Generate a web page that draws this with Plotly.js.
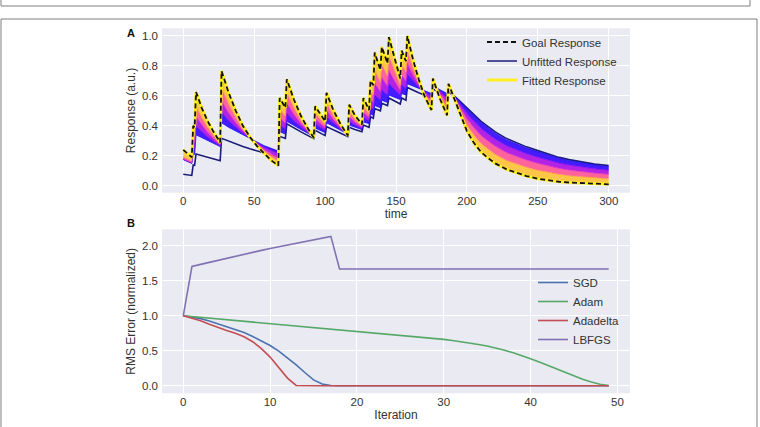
<!DOCTYPE html>
<html><head><meta charset="utf-8">
<script src="https://cdn.plot.ly/plotly-3.0.1.min.js"></script>
<style>html,body{margin:0;padding:0;background:#fff}#chart{width:760px;height:427px}</style>
</head><body><div id="chart"></div>
<script>
// ---------- Panel A data ----------
const time = [0, 6, 7, 8, 9, 13, 17, 21, 26, 27, 32, 37, 42, 47, 52, 57, 62, 67, 68, 72, 73, 78, 83, 88, 92, 93, 100, 101, 106, 111, 116, 117, 121, 126, 127, 131, 132, 134, 135, 139, 140, 144, 145, 149, 153, 154, 157, 158, 162, 166, 170, 175, 176, 181, 186, 187, 191, 195, 200, 205, 210, 215, 220, 228, 235, 242, 250, 258, 265, 272, 280, 290, 300];
const goalResponse = [0.24, 0.19, 0.40, 0.39, 0.625, 0.52, 0.435, 0.365, 0.29, 0.765, 0.62, 0.50, 0.40, 0.325, 0.265, 0.215, 0.17, 0.135, 0.585, 0.52, 0.71, 0.575, 0.465, 0.38, 0.32, 0.53, 0.43, 0.62, 0.50, 0.41, 0.335, 0.54, 0.47, 0.41, 0.585, 0.505, 0.70, 0.67, 0.887, 0.77, 0.925, 0.815, 0.99, 0.85, 0.715, 0.90, 0.83, 0.998, 0.84, 0.71, 0.60, 0.505, 0.715, 0.58, 0.47, 0.68, 0.58, 0.49, 0.365, 0.285, 0.225, 0.185, 0.15, 0.11, 0.087, 0.066, 0.048, 0.035, 0.028, 0.023, 0.019, 0.014, 0.011];
const unfittedResponse = [0.078, 0.07, 0.14, 0.138, 0.213, 0.202, 0.192, 0.182, 0.168, 0.317, 0.298, 0.28, 0.262, 0.247, 0.232, 0.218, 0.205, 0.192, 0.33, 0.316, 0.413, 0.385, 0.36, 0.335, 0.315, 0.37, 0.335, 0.395, 0.37, 0.35, 0.328, 0.39, 0.375, 0.36, 0.405, 0.39, 0.46, 0.45, 0.515, 0.50, 0.55, 0.535, 0.585, 0.565, 0.545, 0.585, 0.57, 0.655, 0.635, 0.62, 0.605, 0.585, 0.645, 0.62, 0.597, 0.625, 0.60, 0.565, 0.52, 0.475, 0.43, 0.395, 0.36, 0.315, 0.285, 0.26, 0.235, 0.21, 0.19, 0.175, 0.16, 0.145, 0.135];
// intermediate fitting iterations (edges of the colour bands, read from the fan)
const iterBlue = [0.175, 0.15, 0.21, 0.21, 0.34, 0.32, 0.30, 0.285, 0.262, 0.42, 0.39, 0.365, 0.34, 0.318, 0.29, 0.268, 0.25, 0.232, 0.36, 0.345, 0.43, 0.40, 0.375, 0.35, 0.33, 0.385, 0.355, 0.42, 0.395, 0.37, 0.345, 0.405, 0.39, 0.375, 0.425, 0.415, 0.48, 0.47, 0.535, 0.52, 0.57, 0.555, 0.605, 0.59, 0.575, 0.615, 0.605, 0.68, 0.665, 0.65, 0.635, 0.615, 0.665, 0.64, 0.615, 0.635, 0.595, 0.56, 0.513, 0.467, 0.422, 0.386, 0.351, 0.306, 0.277, 0.252, 0.227, 0.203, 0.183, 0.168, 0.153, 0.139, 0.128];
const iterPurple = [0.177, 0.152, 0.25, 0.245, 0.40, 0.36, 0.327, 0.30, 0.268, 0.49, 0.435, 0.392, 0.352, 0.319, 0.285, 0.258, 0.234, 0.213, 0.405, 0.38, 0.485, 0.435, 0.393, 0.356, 0.328, 0.414, 0.37, 0.46, 0.416, 0.378, 0.343, 0.432, 0.406, 0.382, 0.457, 0.433, 0.524, 0.51, 0.605, 0.57, 0.64, 0.607, 0.682, 0.642, 0.603, 0.672, 0.65, 0.744, 0.70, 0.662, 0.628, 0.593, 0.675, 0.628, 0.586, 0.644, 0.592, 0.545, 0.482, 0.43, 0.382, 0.346, 0.311, 0.267, 0.239, 0.215, 0.191, 0.169, 0.152, 0.139, 0.126, 0.114, 0.104];
const iterMagenta = [0.18, 0.155, 0.29, 0.285, 0.46, 0.405, 0.357, 0.318, 0.274, 0.565, 0.485, 0.42, 0.365, 0.321, 0.279, 0.243, 0.215, 0.19, 0.455, 0.418, 0.55, 0.475, 0.413, 0.363, 0.326, 0.446, 0.387, 0.505, 0.44, 0.387, 0.341, 0.462, 0.424, 0.39, 0.492, 0.453, 0.572, 0.555, 0.683, 0.625, 0.72, 0.664, 0.767, 0.70, 0.634, 0.735, 0.70, 0.814, 0.739, 0.675, 0.62, 0.569, 0.686, 0.615, 0.554, 0.654, 0.588, 0.528, 0.447, 0.388, 0.336, 0.299, 0.265, 0.222, 0.196, 0.173, 0.151, 0.131, 0.117, 0.106, 0.096, 0.086, 0.078];
const iterOrange = [0.195, 0.165, 0.34, 0.33, 0.53, 0.455, 0.392, 0.34, 0.281, 0.655, 0.545, 0.457, 0.381, 0.323, 0.272, 0.229, 0.193, 0.163, 0.51, 0.464, 0.62, 0.52, 0.436, 0.37, 0.323, 0.484, 0.406, 0.556, 0.466, 0.397, 0.338, 0.497, 0.444, 0.399, 0.534, 0.476, 0.63, 0.606, 0.774, 0.69, 0.81, 0.732, 0.867, 0.767, 0.67, 0.809, 0.758, 0.896, 0.784, 0.691, 0.611, 0.54, 0.699, 0.599, 0.516, 0.666, 0.585, 0.51, 0.406, 0.338, 0.282, 0.245, 0.21, 0.169, 0.146, 0.124, 0.104, 0.087, 0.077, 0.068, 0.061, 0.053, 0.047];
const timeTicks = [0, 50, 100, 150, 200, 250, 300];
const responseTicks = [0.0, 0.2, 0.4, 0.6, 0.8, 1.0];

// ---------- Panel B data ----------
const iteration = [0,1,2,3,4,5,6,7,8,9,10,11,12,13,14,15,16,17,18,19,20,21,22,23,24,25,26,27,28,29,30,31,32,33,34,35,36,37,38,39,40,41,42,43,44,45,46,47,48,49];
const sgd = [1.0,0.985,0.96,0.925,0.885,0.845,0.805,0.76,0.705,0.645,0.575,0.495,0.40,0.30,0.19,0.085,0.025,0.005,0,0,0,0,0,0,0,0,0,0,0,0,0,0,0,0,0,0,0,0,0,0,0,0,0,0,0,0,0,0,0,0];
const adam = [1.0,0.989,0.978,0.967,0.956,0.945,0.934,0.923,0.912,0.901,0.89,0.879,0.868,0.857,0.846,0.835,0.824,0.813,0.802,0.791,0.78,0.769,0.758,0.747,0.736,0.725,0.714,0.702,0.69,0.677,0.663,0.648,0.631,0.612,0.591,0.568,0.54,0.508,0.472,0.432,0.388,0.34,0.29,0.24,0.19,0.14,0.095,0.055,0.022,0.003];
const adadelta = [1.0,0.97,0.93,0.88,0.83,0.79,0.75,0.70,0.63,0.53,0.41,0.26,0.11,0.005,0,0,0,0,0,0,0,0,0,0,0,0,0,0,0,0,0,0,0,0,0,0,0,0,0,0,0,0,0,0,0,0,0,0,0,0];
const lbfgs = [1.0,1.705,1.735,1.765,1.795,1.825,1.853,1.88,1.907,1.935,1.962,1.987,2.012,2.037,2.062,2.087,2.11,2.135,1.668,1.668,1.668,1.668,1.668,1.668,1.668,1.668,1.668,1.668,1.668,1.668,1.668,1.668,1.668,1.668,1.668,1.668,1.668,1.668,1.668,1.668,1.668,1.668,1.668,1.668,1.668,1.668,1.668,1.668,1.668,1.668];
const iterTicks = [0, 10, 20, 30, 40, 50];
const errorTicks = [0.0, 0.5, 1.0, 1.5, 2.0];

// ---------- traces ----------
const FONT = 'Liberation Sans, Arial, sans-serif';
const traces = [];
traces.push({x: time, y: unfittedResponse, type: 'scatter', mode: 'lines', name: 'Unfitted Response',
  line: {color: '#1c1c78', width: 1.6}, legendrank: 2, xaxis: 'x', yaxis: 'y'});
const bands = [
  {y: iterBlue, line: '#1a0aff', fill: null},
  {y: iterPurple, line: '#7a0cf2', fill: 'rgba(60,16,255,0.95)'},
  {y: iterMagenta, line: '#d82ad0', fill: 'rgba(176,24,226,0.95)'},
  {y: iterOrange, line: '#ff9458', fill: 'rgba(255,92,150,0.95)'},
  {y: goalResponse, line: '#ffe040', fill: 'rgba(255,196,60,0.95)'}
];
bands.forEach(b => {
  const t = {x: time, y: b.y, type: 'scatter', mode: 'lines', showlegend: false, hoverinfo: 'skip',
    line: {color: b.line, width: 0.8}, xaxis: 'x', yaxis: 'y'};
  if (b.fill) { t.fill = 'tonexty'; t.fillcolor = b.fill; }
  traces.push(t);
});
traces.push({x: time, y: goalResponse, type: 'scatter', mode: 'lines', name: 'Fitted Response',
  line: {color: '#ffee22', width: 3}, legendrank: 3, xaxis: 'x', yaxis: 'y'});
traces.push({x: time, y: goalResponse, type: 'scatter', mode: 'lines', name: 'Goal Response',
  line: {color: '#111111', width: 1.8, dash: '5px,3px'}, legendrank: 1, xaxis: 'x', yaxis: 'y'});

const opt = [
  {name: 'SGD', y: sgd, c: '#4C72B0'},
  {name: 'Adam', y: adam, c: '#55A868'},
  {name: 'Adadelta', y: adadelta, c: '#C44E52'},
  {name: 'LBFGS', y: lbfgs, c: '#8172B2'}
];
opt.forEach(o => traces.push({x: iteration, y: o.y, type: 'scatter', mode: 'lines', name: o.name,
  line: {color: o.c, width: 1.6}, xaxis: 'x2', yaxis: 'y2', legend: 'legend2'}));

const common = {showline: false, zeroline: false, ticks: '', gridcolor: '#ffffff', gridwidth: 1,
  tickfont: {family: FONT, size: 11.5, color: '#333333'}, automargin: true};
const titleFont = {family: FONT, size: 12, color: '#333333'};
const px = v => v / 760, py = v => 1 - v / 427;

const layout = {
  width: 760, height: 427, margin: {l: 0, r: 0, t: 0, b: 0},
  paper_bgcolor: '#ffffff', plot_bgcolor: '#EAEAF2',
  font: {family: FONT, color: '#333333'},
  xaxis: Object.assign({}, common, {domain: [px(162), px(630)], range: [-15, 315], tickvals: timeTicks,
    anchor: 'y', title: {text: 'time', font: titleFont, standoff: 3}}),
  yaxis: Object.assign({}, common, {domain: [py(192.7), py(28.3)], range: [-0.045, 1.049], tickvals: responseTicks,
    tickformat: '.1f', anchor: 'x', ticklabelstandoff: 3, title: {text: 'Response (a.u.)', font: titleFont, standoff: 3}}),
  xaxis2: Object.assign({}, common, {domain: [px(162), px(630)], range: [-2.45, 51.45], tickvals: iterTicks,
    anchor: 'y2', title: {text: 'Iteration', font: titleFont, standoff: 3}}),
  yaxis2: Object.assign({}, common, {domain: [py(393.3), py(229.3)], range: [-0.107, 2.236], tickvals: errorTicks,
    tickformat: '.1f', anchor: 'x2', ticklabelstandoff: 3, title: {text: 'RMS Error (normalized)', font: titleFont, standoff: 3}}),
  showlegend: true,
  legend: {x: px(482), y: py(27.5), xanchor: 'left', yanchor: 'top', bgcolor: 'rgba(0,0,0,0)',
    font: {family: FONT, size: 11.5, color: '#333333'}, traceorder: 'normal'},
  legend2: {x: px(533), y: py(268), xanchor: 'left', yanchor: 'top', bgcolor: 'rgba(0,0,0,0)',
    font: {family: FONT, size: 11.5, color: '#333333'}, traceorder: 'normal'},
  annotations: [
    {text: '<b>A</b>', x: px(130.7), y: py(33.3), xref: 'paper', yref: 'paper', showarrow: false,
      xanchor: 'center', yanchor: 'middle', font: {family: FONT, size: 11, color: '#111'}},
    {text: '<b>B</b>', x: px(130.5), y: py(223.3), xref: 'paper', yref: 'paper', showarrow: false,
      xanchor: 'center', yanchor: 'middle', font: {family: FONT, size: 11, color: '#111'}}
  ],
  shapes: [
    {type: 'line', xref: 'paper', yref: 'paper', x0: px(1), x1: px(750), y0: py(6), y1: py(6), line: {color: '#7f7f7f', width: 1}},
    {type: 'line', xref: 'paper', yref: 'paper', x0: px(1), x1: px(1), y0: py(0), y1: py(6), line: {color: '#7f7f7f', width: 1}},
    {type: 'line', xref: 'paper', yref: 'paper', x0: px(750), x1: px(750), y0: py(0), y1: py(6), line: {color: '#7f7f7f', width: 1}},
    {type: 'line', xref: 'paper', yref: 'paper', x0: px(1), x1: px(757), y0: py(19), y1: py(19), line: {color: '#7f7f7f', width: 1}},
    {type: 'line', xref: 'paper', yref: 'paper', x0: px(1), x1: px(1), y0: py(19), y1: py(427), line: {color: '#7f7f7f', width: 1}},
    {type: 'line', xref: 'paper', yref: 'paper', x0: px(757), x1: px(757), y0: py(19), y1: py(427), line: {color: '#7f7f7f', width: 1}}
  ]
};

Plotly.newPlot('chart', traces, layout, {displayModeBar: false, staticPlot: true});
</script>
</body></html>
